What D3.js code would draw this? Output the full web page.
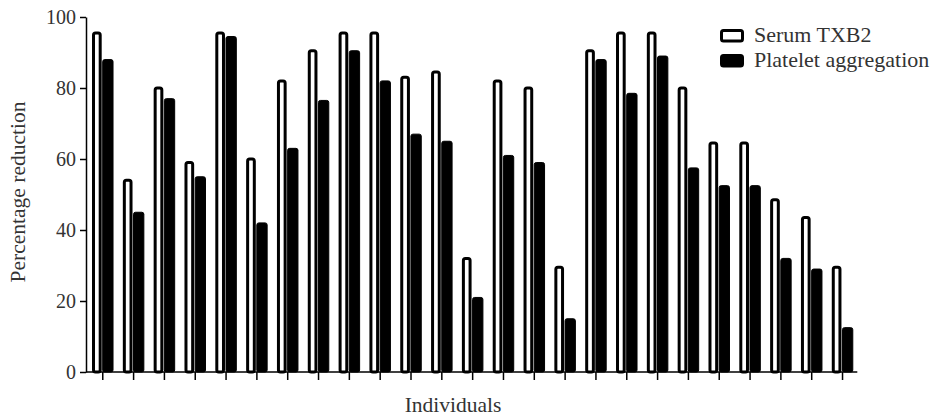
<!DOCTYPE html>
<html>
<head>
<meta charset="utf-8">
<script src="https://cdn.jsdelivr.net/npm/d3@7"></script>
<style>
  html, body { margin: 0; padding: 0; background: #fff; }
  svg { display: block; }
  text { font-family: "Liberation Serif", "Times New Roman", serif; fill: #333; }
</style>
</head>
<body>
<svg id="chart" width="937" height="418"></svg>
<script>
const individuals = d3.range(1, 26).map(String);
const serumTXB2 = [95.5, 54, 80, 59, 95.5, 60, 82, 90.5, 95.5, 95.5, 83, 84.5, 32, 82, 80, 29.5, 90.5, 95.5, 95.5, 80, 64.5, 64.5, 48.5, 43.5, 29.5];
const plateletAggregation = [88, 45, 77, 55, 94.5, 42, 63, 76.5, 90.5, 82, 67, 65, 21, 61, 59, 15, 88, 78.5, 89, 57.5, 52.5, 52.5, 32, 29, 12.5];
const yTicks = [0, 20, 40, 60, 80, 100];
const seriesNames = ["Serum TXB2", "Platelet aggregation"];

const svg = d3.select("#chart");

const x = d3.scaleBand().domain(individuals).range([86, 859.3]).paddingInner(0.302).paddingOuter(0.195);
const y = d3.scaleLinear().domain([0, 100]).range([372, 17]);

const bw = x.bandwidth();
const wOuter = bw * 0.45;
const bOuter = bw - wOuter;

// Serum bars (white with thick outline)
svg.append("g").selectAll("rect").data(serumTXB2).join("rect")
  .attr("x", (d, i) => x(individuals[i]) + 1.5)
  .attr("y", d => y(d))
  .attr("width", wOuter - 3)
  .attr("height", d => y(0) - y(d))
  .attr("rx", 2)
  .attr("fill", "#fff")
  .attr("stroke", "#000")
  .attr("stroke-width", 3);

// Platelet bars (black)
svg.append("g").selectAll("rect").data(plateletAggregation).join("rect")
  .attr("x", (d, i) => x(individuals[i]) + wOuter + 1)
  .attr("y", d => y(d))
  .attr("width", bOuter - 1.5)
  .attr("height", d => y(0) - y(d))
  .attr("rx", 2)
  .attr("fill", "#000")
  .attr("stroke", "#000")
  .attr("stroke-width", 1);

// Y axis
const yAxis = svg.append("g").attr("transform", "translate(86,0)")
  .call(d3.axisLeft(y).tickValues(yTicks).tickSize(6).tickSizeOuter(0).tickPadding(4));
yAxis.select(".domain").attr("stroke", "#000").attr("stroke-width", 1.5);
yAxis.selectAll(".tick line").attr("stroke", "#000").attr("stroke-width", 1.5);
yAxis.selectAll(".tick text").style("font-family", "Liberation Serif, serif").style("font-size", "20px").attr("fill", "#333");

// X axis
const xAxis = svg.append("g").attr("transform", "translate(0,372)")
  .call(d3.axisBottom(x).tickFormat("").tickSize(8).tickSizeOuter(0));
xAxis.select(".domain").remove();
xAxis.selectAll(".tick line").attr("stroke", "#000").attr("stroke-width", 1.5);
svg.append("line").attr("x1", 86).attr("x2", 857.3).attr("y1", 372).attr("y2", 372)
  .attr("stroke", "#000").attr("stroke-width", 1.5);

// Axis titles
svg.append("text").attr("transform", "translate(25,192) rotate(-90)")
  .attr("text-anchor", "middle").style("font-size", "21.5px").text("Percentage reduction");
svg.append("text").attr("x", 453).attr("y", 412)
  .attr("text-anchor", "middle").style("font-size", "21.5px").text("Individuals");

// Legend
const legend = svg.append("g");
const legendY = [29, 54];
legend.selectAll("rect").data(seriesNames).join("rect")
  .attr("x", 721.5).attr("y", (d, i) => legendY[i] + 1.5)
  .attr("width", 21).attr("height", 10.5).attr("rx", 2)
  .attr("fill", (d, i) => i === 0 ? "#fff" : "#000")
  .attr("stroke", "#000").attr("stroke-width", 3);
legend.selectAll("text").data(seriesNames).join("text")
  .attr("x", 754).attr("y", (d, i) => legendY[i] + 13)
  .style("font-size", "22px").text(d => d);
</script>
</body>
</html>
